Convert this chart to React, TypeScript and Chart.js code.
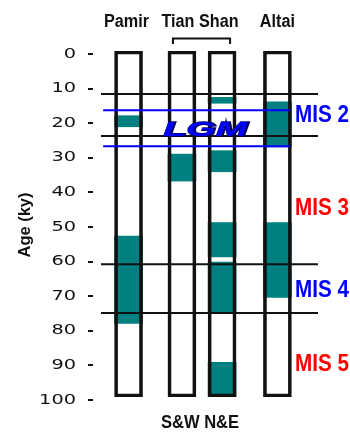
import { useEffect, useRef } from 'react';
import { Chart, registerables } from 'chart.js';

Chart.register(...registerables);

// ---------- data (ages in ky) ----------
const groupLabels = ['Pamir', 'Tian Shan', 'Altai'];
const subLabel = 'S&W N&E';
const axisTitle = 'Age (ky)';
const ageRange = [0, 100];
const ageTicks = [0, 10, 20, 30, 40, 50, 60, 70, 80, 90, 100];

const pamirSegments = [[18.7, 21.9], [53.5, 78.7]];
const tianShanSWSegments = [[29.8, 37.6]];
const tianShanNESegments = [[13.4, 15.1], [28.8, 34.9], [49.6, 59.5], [61.0, 75.8], [90.0, 100]];
const altaiSegments = [[14.7, 27.7], [49.6, 71.2]];

const stageBoundaries = [12.4, 24.6, 61.6, 75.7];
const lgmBounds = [17.1, 27.5];
const lgmLabel = 'LGM';
const lgmAge = 22.3;

const misLabels = ['MIS 2', 'MIS 3', 'MIS 4', 'MIS 5'];
const misAges = [17.9, 44.8, 68.5, 89.9];

// ---------- layout / styles ----------
const COL_X = [1.27, 3.73, 5.58, 8.13];
const X_MIN = 0;
const X_MAX = 10;
const BLUE_X = [0.1, 8.7];
const LGM_X = 4.79;
const TEAL = '#008080';
const BLUE = '#0000ff';
const RED = '#ff0000';
const misColors = [BLUE, RED, BLUE, RED];

function stretchedText(
  ctx: CanvasRenderingContext2D,
  text: string,
  x: number,
  y: number,
  font: string,
  sx: number,
  align: CanvasTextAlign,
  color: string,
  baseline: CanvasTextBaseline = 'alphabetic'
) {
  ctx.save();
  ctx.translate(x, y);
  ctx.scale(sx, 1);
  ctx.font = font;
  ctx.textAlign = align;
  ctx.textBaseline = baseline;
  ctx.fillStyle = color;
  ctx.fillText(text, 0, 0);
  ctx.restore();
}

const annotPlugin = {
  id: 'annot',
  afterDatasetsDraw(chart: any) {
    const { ctx, scales } = chart;
    const xs = scales.x;
    const ys = scales.y;
    ctx.save();

    // y tick labels with dash marks
    ageTicks.forEach((v) => {
      const py = ys.getPixelForValue(v) + 3;
      stretchedText(ctx, String(v), 76, py, '14px "DejaVu Sans"', 1.38, 'right', '#111', 'middle');
      ctx.fillStyle = '#111';
      ctx.fillRect(88, Math.round(py) - 1, 5, 2);
    });

    // axis title
    ctx.save();
    ctx.translate(25, 225);
    ctx.rotate(-Math.PI / 2);
    ctx.scale(0.97, 1);
    ctx.font = 'bold 17px "Liberation Sans"';
    ctx.textAlign = 'center';
    ctx.textBaseline = 'middle';
    ctx.fillStyle = '#111';
    ctx.fillText(axisTitle, 0, 0);
    ctx.restore();

    // group labels on top
    const p = COL_X.map((c) => xs.getPixelForValue(c));
    const topFont = 'bold 18px "Liberation Sans"';
    stretchedText(ctx, groupLabels[0], p[0] - 2, 27, topFont, 0.9, 'center', '#111');
    stretchedText(ctx, groupLabels[1], (p[1] + p[2]) / 2 - 2, 27, topFont, 0.9, 'center', '#111');
    stretchedText(ctx, groupLabels[2], p[3], 27, topFont, 0.9, 'center', '#111');

    // bracket over Tian Shan columns
    ctx.strokeStyle = '#111';
    ctx.lineWidth = 2;
    ctx.beginPath();
    ctx.moveTo(p[1] - 9, 44);
    ctx.lineTo(p[1] - 9, 38.5);
    ctx.lineTo(p[2] + 8, 38.5);
    ctx.lineTo(p[2] + 8, 44);
    ctx.stroke();

    // bottom sub label
    stretchedText(ctx, subLabel, (p[1] + p[2]) / 2 - 2, 428, 'bold 18px "Liberation Sans"', 0.92, 'center', '#111');

    // MIS labels
    misLabels.forEach((t, i) => {
      const py = ys.getPixelForValue(misAges[i]) + 8.6;
      stretchedText(ctx, t, 295, py, 'bold 24px "Liberation Sans"', 0.86, 'left', misColors[i]);
    });

    // LGM label
    const lx = xs.getPixelForValue(LGM_X);
    const ly = ys.getPixelForValue(lgmAge) + 7.5;
    ctx.save();
    ctx.translate(lx, ly);
    ctx.scale(1.8, 1);
    ctx.font = 'italic bold 21px "Liberation Sans"';
    ctx.textAlign = 'center';
    ctx.textBaseline = 'alphabetic';
    ctx.lineWidth = 1.6;
    ctx.strokeStyle = '#000060';
    ctx.strokeText(lgmLabel, 0.6, 0.8);
    ctx.fillStyle = BLUE;
    ctx.fillText(lgmLabel, 0, 0);
    ctx.restore();

    ctx.restore();
  },
};

export default function App() {
  const ref = useRef<HTMLCanvasElement>(null);

  useEffect(() => {
    const columns = [pamirSegments, tianShanSWSegments, tianShanNESegments, altaiSegments];
    const tealData: any[] = [];
    columns.forEach((segs, i) => {
      segs.forEach((s) => tealData.push({ x: COL_X[i], y: [s[0], s[1]] }));
    });

    const lineDs = (age: number, x0: number, x1: number, color: string) => ({
      type: 'line' as const,
      data: [
        { x: x0, y: age },
        { x: x1, y: age },
      ],
      borderColor: color,
      borderWidth: 2,
      pointRadius: 0,
      fill: false,
      order: 1,
    });

    const chart = new Chart(ref.current as HTMLCanvasElement, {
      type: 'bar',
      data: {
        datasets: [
          {
            type: 'bar',
            data: tealData,
            backgroundColor: TEAL,
            borderWidth: 0,
            barThickness: 28,
            grouped: false,
            order: 3,
          } as any,
          {
            type: 'bar',
            data: COL_X.map((x) => ({ x, y: [ageRange[0], ageRange[1]] })),
            backgroundColor: 'rgba(0,0,0,0)',
            borderColor: '#111',
            borderWidth: 3,
            borderSkipped: false,
            barThickness: 28,
            grouped: false,
            order: 2,
          } as any,
          ...stageBoundaries.map((a) => lineDs(a, X_MIN, X_MAX, '#111')),
          ...lgmBounds.map((a) => lineDs(a, BLUE_X[0], BLUE_X[1], BLUE)),
        ] as any,
      },
      options: {
        responsive: false,
        animation: false,
        events: [],
        layout: { padding: { left: 101, right: 32, top: 51, bottom: 36 } },
        scales: {
          x: { type: 'linear', min: X_MIN, max: X_MAX, display: false, offset: false },
          y: { type: 'linear', min: ageRange[0], max: ageRange[1], reverse: true, display: false },
        },
        plugins: {
          legend: { display: false },
          tooltip: { enabled: false },
        },
      },
      plugins: [annotPlugin],
    });
    return () => chart.destroy();
  }, []);

  return (
    <div style={{ position: 'fixed', left: 0, top: 0, width: 350, height: 433, background: '#fff' }}>
      <canvas ref={ref} width={350} height={433} style={{ display: 'block' }} />
    </div>
  );
}
